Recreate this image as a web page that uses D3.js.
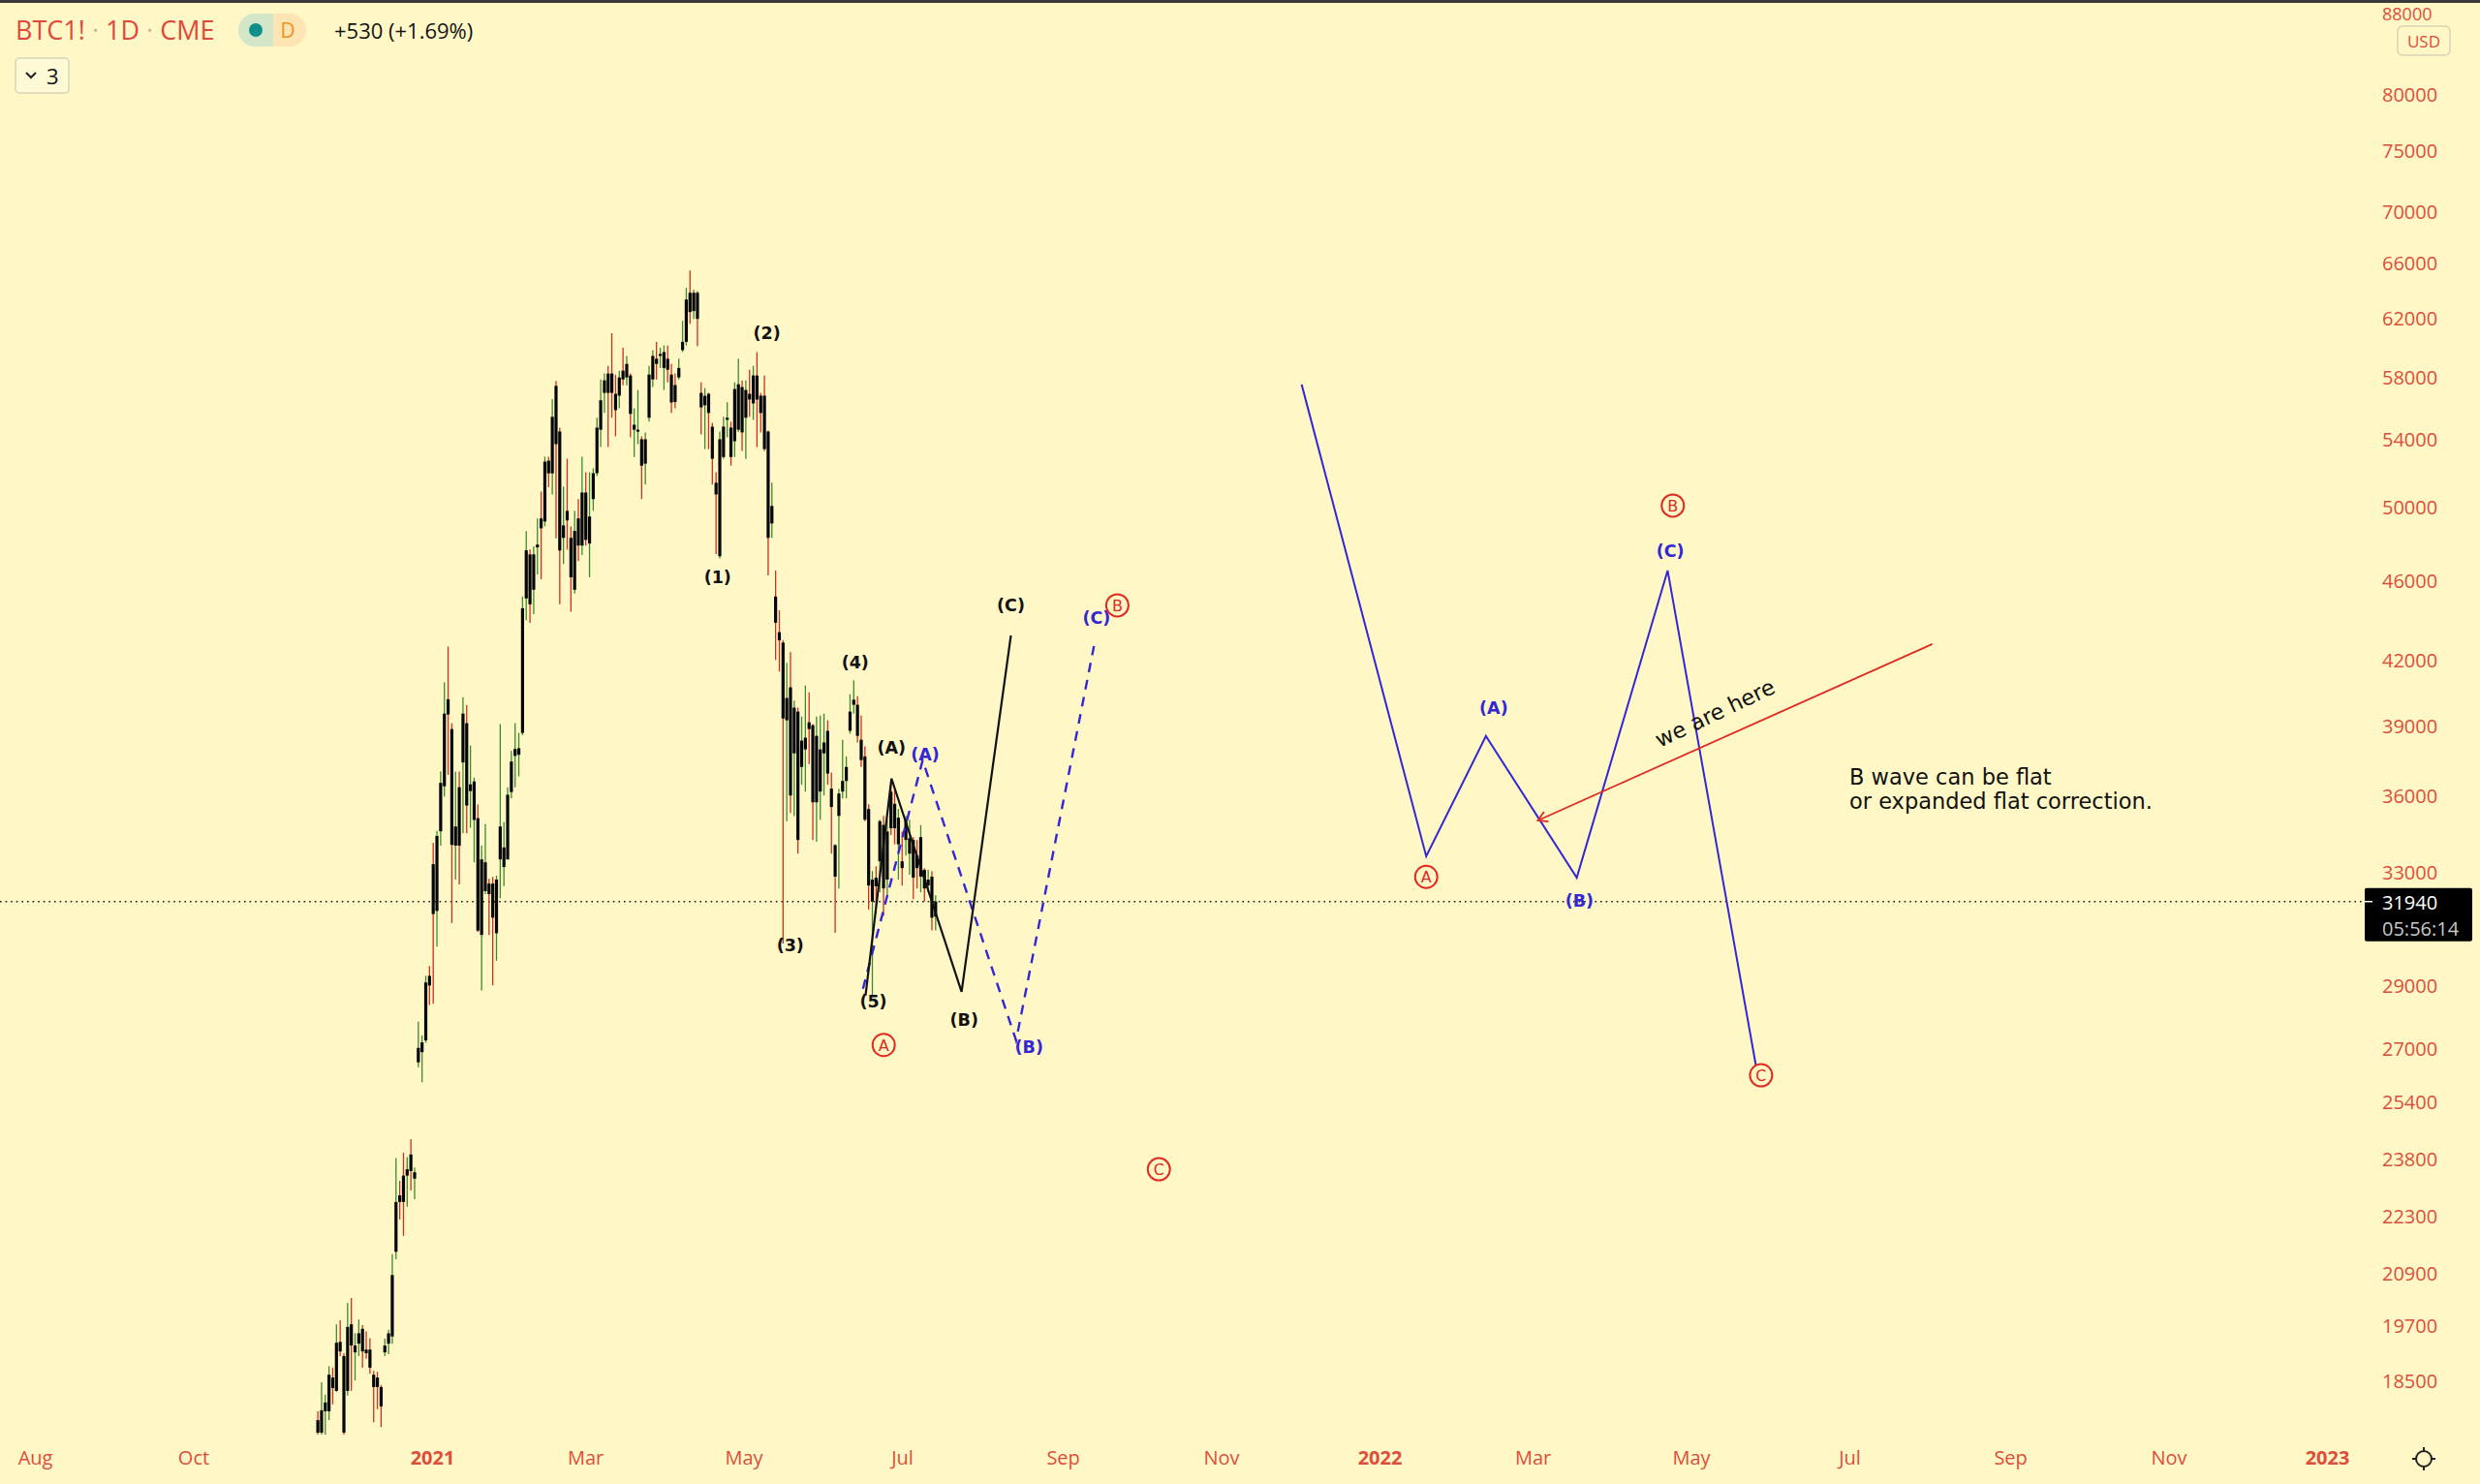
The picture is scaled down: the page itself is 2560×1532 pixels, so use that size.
<!DOCTYPE html>
<html><head><meta charset="utf-8">
<script src="https://cdn.jsdelivr.net/npm/d3@7"></script>
<style>
html,body{margin:0;padding:0;background:#fff8c6;}
svg{display:block;}
</style></head><body>
<svg id="chart" width="2560" height="1532"></svg>
<script>
// ---------- DATA ----------
const candleStart = "2020-11-18";
const candleEnd = "2021-07-14";
const candleOpen = [17700,17450,17880,17880,18580,18300,19350,19040,18300,19740,19120,19310,19640,19180,19180,18640,18580,18380,19120,19310,19470,21440,22860,23380,23380,23950,23300,
26600,26910,27270,29350,33330,31600,34600,36420,40210,38870,34040,36380,37420,39130,36220,35050,35120,30750,32320,32600,32600,30810,33510,33220,33510,36180,37700,37750,
38700,45100,47420,45550,47800,49400,49230,52760,52000,57450,54540,48320,49830,48320,45550,49400,47900,50880,48010,50500,52010,54650,56990,58260,58260,56930,56810,58450,58000,58130,54650,54530,54060,52580,55400,57870,59250,59440,58630,59250,58190,57500,58000,59830,60400,63870,62550,63870,
56990,56190,56930,54840,51450,47320,52980,55270,54780,53940,54650,57370,55400,56930,56310,58130,56810,56810,54540,49120,45200,43400,
42890,39260,40760,37810,39650,37230,37980,39170,39040,35760,36200,37810,38790,36320,34060,35210,36200,36640,38790,39960,39960,38400,37680,35490,31940,32820,33440,34850,32750,36200,35700,34090,33440,34260,33730,34260,33660,32860,33110,32530,32860,31400];
const candleHigh = [17880,18480,18220,18820,18790,19740,19830,19100,20230,20340,19540,19850,19720,19580,19430,18720,18700,18420,19420,19620,21380,23850,23240,24000,23880,24370,23600,
27860,27420,29350,29680,34150,34620,37050,40990,42700,39130,37030,37030,40300,39950,38150,36780,35670,34040,34880,32780,32850,32900,39090,34960,36380,37920,39130,38700,
45200,48700,47680,47860,49400,50940,53000,53000,56590,57770,54780,51230,52870,48950,49830,50500,53000,52070,52070,52300,55400,57870,58260,58770,61000,58190,58450,60000,59440,58260,56000,57180,54240,54480,58770,59830,60400,60000,60150,60150,58900,58260,59250,61860,64230,65500,64100,64000,
57680,57300,57000,55080,52070,54540,55460,56380,55150,57680,59250,57810,57810,58510,58770,59700,56990,58130,54600,51450,46560,44500,
43000,41910,42420,40150,39830,39430,40850,40530,39090,39430,39470,39560,39260,36990,34100,36320,38400,37680,40440,41090,40350,39470,38110,35680,33070,33250,35060,35210,35060,36640,36280,35490,34590,35210,35060,34370,34260,34850,33180,33110,33070,32170];
const candleLow = [17300,17300,17400,17700,18020,18280,19040,17300,18200,18300,18520,19040,18790,18980,18660,17660,17920,17560,19040,19080,19310,21260,22240,21830,22570,22990,22760,
26450,26000,27200,28390,28430,30340,34040,36000,36900,31170,32750,32570,34520,34520,34740,33400,30850,28870,32210,30750,29030,29860,32060,32510,33510,35920,36380,36830,
38600,44000,43870,44300,46350,46100,48960,51180,50770,48300,44800,46900,47680,44430,45350,47060,47390,47900,46200,49830,51840,53580,55700,53580,55400,54240,56000,57490,57490,54180,52980,53760,50500,51340,55150,57370,57870,58630,57180,57680,55700,56000,57870,59700,60150,61660,62000,60100,
54360,53460,53460,51340,47440,47200,52870,54180,52460,52980,54500,53340,52870,55460,55270,53580,54480,53340,46300,48320,42050,41500,
30450,35000,35330,35200,33730,36480,36200,37350,34260,34190,35060,36040,36480,33730,30820,32420,35920,35920,38660,39560,38280,37230,35000,31650,28710,31500,32280,31420,32170,34450,34090,32750,32530,33660,32930,32030,32420,32280,31940,32280,30910,30910];
const candleClose = [17450,17900,18060,18640,18360,19330,19140,17450,19680,19270,19270,19540,19140,19100,18790,18380,18380,17980,19270,19540,20880,22690,22690,22690,23550,23500,23470,
27040,27210,29130,29030,31490,34420,36560,39560,39520,34070,34790,34040,39560,35630,36500,36620,30900,33510,33400,32210,31360,32750,34790,33970,36070,37460,38000,38030,
44600,47640,44800,47420,47950,48850,52700,52000,55460,53760,47630,49010,49290,46200,48700,47900,50880,48210,49510,52010,54780,56510,57810,56990,56990,55880,58000,57870,58900,55640,54960,54650,52460,54060,58190,59440,58900,59570,59700,58510,56370,56400,58630,60400,63380,62480,63870,62000,
56060,56800,55700,52870,50770,54060,54840,55400,52980,57240,57550,54480,57180,56560,58130,56560,55700,53460,48320,50110,43870,43000,
39340,40270,36040,39830,34260,38360,38490,38870,35760,38570,37980,38280,36950,35570,32860,36120,36640,37230,39650,40190,38570,37520,35060,32530,32750,32500,35000,32420,34590,34720,34720,35140,33180,35060,34330,32820,33180,34370,32420,32750,31360,31940];

const lastPrice = 31940;
const lastTimer = "05:56:14";

const xTickDates = ["2020-08-01","2020-10-01","2021-01-01","2021-03-01","2021-05-01","2021-07-01","2021-09-01","2021-11-01","2022-01-01","2022-03-01","2022-05-01","2022-07-01","2022-09-01","2022-11-01","2023-01-01"];
const xTickLabels = ["Aug","Oct","2021","Mar","May","Jul","Sep","Nov","2022","Mar","May","Jul","Sep","Nov","2023"];
const yTickValues = [88000,80000,75000,70000,66000,62000,58000,54000,50000,46000,42000,39000,36000,33000,29000,27000,25400,23800,22300,20900,19700,18500];

// wave paths [date, price]
const blackWave = [["2021-06-17",28700],["2021-06-27",36740],["2021-07-24",28820],["2021-08-12",43240]];
const blueDashWave = [["2021-06-16",28920],["2021-07-09",37510],["2021-08-14",27270],["2021-09-13",42720]];
const blueBigWave = [["2021-12-02",57540],["2022-01-19",33630],["2022-02-11",38560],["2022-03-18",32820],["2022-04-22",46560],["2022-05-26",26510]];
const arrowLine = [["2022-08-02",42820],["2022-03-03",35030]];

// labels [date, price, text]
const blackLabels = [["2021-04-21",46200,"(1)"],["2021-05-10",61000,"(2)"],["2021-05-19",30380,"(3)"],["2021-06-13",41930,"(4)"],["2021-06-20",28510,"(5)"],["2021-06-27",38050,"(A)"],["2021-07-25",27920,"(B)"],["2021-08-12",44750,"(C)"]];
const blueLabels = [["2021-07-10",37760,"(A)"],["2021-08-19",27060,"(B)"],["2021-09-14",44110,"(C)"],["2022-02-14",39820,"(A)"],["2022-03-19",31970,"(B)"],["2022-04-23",47590,"(C)"]];
const redCircled = [["2021-06-24",27130,"A"],["2021-09-22",44750,"B"],["2021-10-08",23550,"C"],["2022-01-19",32850,"A"],["2022-04-24",50130,"B"],["2022-05-28",26210,"C"]];
const weAreHere = ["2022-04-19",38050,"we are here"];
const noteText = ["2022-07-01",36490,["B wave can be flat","or expanded flat correction."]];

// ---------- CHART ----------
const W = 2560, H = 1532, plotRight = 2440, plotBottom = 1481;
const BG = "#fff8c6", AXIS_RED = "#dc4e3c", BLUE = "#3326d6", RED = "#e02a24";
const parse = d3.timeParse("%Y-%m-%d");
const svg = d3.select("#chart");

const x = d3.scaleTime().domain([parse("2021-01-01"), parse("2022-01-01")]).range([446, 1424]);
const y = d3.scaleLog().domain([18500, 80000]).range([1426, 98]);
const n = candleOpen.length;
const xi = d3.scaleLinear().domain([0, n - 1]).range([x(parse(candleStart)), x(parse(candleEnd))]);

svg.append("rect").attr("width", W).attr("height", H).attr("fill", BG);

svg.append("defs").append("clipPath").attr("id", "plotClip")
  .append("rect").attr("x", 0).attr("y", 3).attr("width", plotRight).attr("height", plotBottom - 3);

const plot = svg.append("g").attr("clip-path", "url(#plotClip)");

// last price dotted line
plot.append("line").attr("x1", 0).attr("x2", plotRight)
  .attr("y1", y(lastPrice)).attr("y2", y(lastPrice))
  .attr("stroke", "#1a1a1a").attr("stroke-width", 1.6).attr("stroke-dasharray", "1.6,4");

// candles
const idx = d3.range(n);
const cg = plot.append("g");
cg.selectAll("line.wick").data(idx).join("line").attr("class", "wick")
  .attr("x1", i => xi(i)).attr("x2", i => xi(i))
  .attr("y1", i => y(candleHigh[i])).attr("y2", i => y(candleLow[i]))
  .attr("stroke", i => candleClose[i] >= candleOpen[i] ? "#3c8a2c" : "#c8321e")
  .attr("stroke-width", 1.3);
cg.selectAll("rect.body").data(idx).join("rect").attr("class", "body")
  .attr("x", i => xi(i) - 1.6).attr("width", 3.2)
  .attr("y", i => y(Math.max(candleOpen[i], candleClose[i])))
  .attr("height", i => Math.max(1.2, Math.abs(y(candleOpen[i]) - y(candleClose[i]))))
  .attr("fill", "#050505");

// wave lines
const line = d3.line().x(d => x(parse(d[0]))).y(d => y(d[1]));
plot.append("path").attr("d", line(blueDashWave)).attr("fill", "none")
  .attr("stroke", BLUE).attr("stroke-width", 2.4).attr("stroke-dasharray", "10,8");
plot.append("path").attr("d", line(blackWave)).attr("fill", "none")
  .attr("stroke", "#111").attr("stroke-width", 2.2).attr("stroke-linejoin", "miter");
plot.append("path").attr("d", line(blueBigWave)).attr("fill", "none")
  .attr("stroke", BLUE).attr("stroke-width", 2);

// red arrow
const a0 = [x(parse(arrowLine[0][0])), y(arrowLine[0][1])];
const a1 = [x(parse(arrowLine[1][0])), y(arrowLine[1][1])];
plot.append("path").attr("d", line(arrowLine)).attr("fill", "none").attr("stroke", RED).attr("stroke-width", 1.8);
const ang = Math.atan2(a0[1] - a1[1], a0[0] - a1[0]);
const hl = 11, ha = Math.PI / 6;
plot.append("path")
  .attr("d", `M${a1[0] + hl * Math.cos(ang - ha)},${a1[1] + hl * Math.sin(ang - ha)} L${a1[0]},${a1[1]} L${a1[0] + hl * Math.cos(ang + ha)},${a1[1] + hl * Math.sin(ang + ha)}`)
  .attr("fill", "none").attr("stroke", RED).attr("stroke-width", 1.8);

// "we are here"
const wx = x(parse(weAreHere[0])), wy = y(weAreHere[1]);
plot.append("text").attr("x", wx).attr("y", wy)
  .attr("transform", `rotate(-25.5,${wx},${wy})`)
  .attr("font-family", "DejaVu Sans").attr("font-size", 22.5).attr("fill", "#111")
  .text(weAreHere[2]);

// note text
const nt = plot.append("text").attr("x", x(parse(noteText[0]))).attr("y", y(noteText[1]))
  .attr("font-family", "DejaVu Sans").attr("font-size", 22.5).attr("fill", "#111");
noteText[2].forEach((t, k) => nt.append("tspan").attr("x", x(parse(noteText[0]))).attr("dy", k ? 25 : 0).text(t));

// labels
plot.selectAll("text.bl").data(blackLabels).join("text").attr("class", "bl")
  .attr("x", d => x(parse(d[0]))).attr("y", d => y(d[1]))
  .attr("text-anchor", "middle").attr("dominant-baseline", "central")
  .attr("font-family", "DejaVu Sans").attr("font-weight", "bold").attr("font-size", 17.5)
  .attr("fill", "#111").text(d => d[2]);
plot.selectAll("text.bu").data(blueLabels).join("text").attr("class", "bu")
  .attr("x", d => x(parse(d[0]))).attr("y", d => y(d[1]))
  .attr("text-anchor", "middle").attr("dominant-baseline", "central")
  .attr("font-family", "DejaVu Sans").attr("font-weight", "bold").attr("font-size", 17.5)
  .attr("fill", BLUE).text(d => d[2]);
const rc = plot.selectAll("g.rc").data(redCircled).join("g").attr("class", "rc")
  .attr("transform", d => `translate(${x(parse(d[0]))},${y(d[1])})`);
rc.append("circle").attr("r", 11.5).attr("fill", "none").attr("stroke", RED).attr("stroke-width", 2);
rc.append("text").attr("text-anchor", "middle").attr("dominant-baseline", "central").attr("y", 0.5)
  .attr("font-family", "DejaVu Sans").attr("font-size", 16).attr("fill", RED).text(d => d[2]);

// top border
svg.append("rect").attr("x", 0).attr("y", 0).attr("width", W).attr("height", 3).attr("fill", "#3a3a3a");

// x axis
const xAxis = d3.axisBottom(x).tickValues(xTickDates.map(parse))
  .tickFormat((d, i) => xTickLabels[i]).tickSize(0).tickPadding(0);
const gx = svg.append("g").attr("transform", `translate(0,${1498})`).call(xAxis);
gx.select(".domain").remove();
gx.selectAll("text").attr("font-family", "Open Sans").attr("font-size", 20)
  .attr("fill", AXIS_RED)
  .attr("font-weight", (d, i) => /^\d{4}$/.test(xTickLabels[i]) ? "bold" : "normal");

// y axis
const yAxis = d3.axisRight(y).tickValues(yTickValues).tickFormat(d3.format("d")).tickSize(0).tickPadding(0);
const gy = svg.append("g").attr("transform", `translate(2459,0)`).call(yAxis);
gy.select(".domain").remove();
gy.selectAll("text").attr("font-family", "Open Sans").attr("fill", AXIS_RED)
  .attr("font-size", d => y(d) < 20 ? 18 : 20)
  .attr("dy", d => y(d) < 20 ? `${20 - y(d)}px` : "0.32em");

// USD box
svg.append("rect").attr("x", 2475).attr("y", 27).attr("width", 54).attr("height", 30).attr("rx", 5)
  .attr("fill", BG).attr("stroke", "#d9d4b4").attr("stroke-width", 1.5);
svg.append("text").attr("x", 2502).attr("y", 42).attr("text-anchor", "middle").attr("dominant-baseline", "central")
  .attr("font-family", "Open Sans").attr("font-size", 17).attr("fill", AXIS_RED).text("USD");

// last price box
const ly = y(lastPrice);
svg.append("rect").attr("x", 2441).attr("y", ly - 14).attr("width", 111).attr("height", 55).attr("rx", 2).attr("fill", "#000");
svg.append("line").attr("x1", 2441).attr("x2", 2449).attr("y1", ly).attr("y2", ly).attr("stroke", "#fff").attr("stroke-width", 1.5);
svg.append("text").attr("x", 2459).attr("y", ly + 1).attr("dominant-baseline", "central")
  .attr("font-family", "Open Sans").attr("font-size", 20).attr("fill", "#fff").text(d3.format("d")(lastPrice));
svg.append("text").attr("x", 2459).attr("y", ly + 28).attr("dominant-baseline", "central")
  .attr("font-family", "Open Sans").attr("font-size", 20).attr("fill", "#c8c8c8").text(lastTimer);

// header
const ht = svg.append("text").attr("x", 16).attr("y", 41).attr("font-family", "Open Sans").attr("font-size", 27).attr("fill", "#e0483a");
ht.append("tspan").text("BTC1!");
ht.append("tspan").attr("fill", "#bbb7a0").text(" · ");
ht.append("tspan").text("1D");
ht.append("tspan").attr("fill", "#bbb7a0").text(" · ");
ht.append("tspan").text("CME");
svg.append("rect").attr("x", 246).attr("y", 14).attr("width", 70).attr("height", 34).attr("rx", 17).attr("fill", "#fce5b3");
svg.append("path").attr("d", "M282,14 H263 A17,17 0 0 0 263,48 H282 Z").attr("fill", "#d3e7c8");
svg.append("circle").attr("cx", 264).attr("cy", 31).attr("r", 7).attr("fill", "#0f8f8c");
svg.append("text").attr("x", 297).attr("y", 31).attr("text-anchor", "middle").attr("dominant-baseline", "central")
  .attr("font-family", "Open Sans").attr("font-size", 21).attr("fill", "#f0921e").text("D");
svg.append("text").attr("x", 345).attr("y", 40).attr("font-family", "Open Sans").attr("font-size", 22).attr("fill", "#131313").text("+530 (+1.69%)");
svg.append("rect").attr("x", 16).attr("y", 60).attr("width", 55).attr("height", 36).attr("rx", 4)
  .attr("fill", "#fffad6").attr("stroke", "#d8d3b8").attr("stroke-width", 1.5);
svg.append("path").attr("d", "M27,75 L32,80 L37,75").attr("fill", "none").attr("stroke", "#222").attr("stroke-width", 2);
svg.append("text").attr("x", 48).attr("y", 78).attr("dominant-baseline", "central")
  .attr("font-family", "Open Sans").attr("font-size", 22).attr("fill", "#131313").text("3");

// gear icon
const gear = svg.append("g").attr("transform", "translate(2502,1506)");
gear.append("circle").attr("r", 8).attr("fill", "none").attr("stroke", "#222").attr("stroke-width", 2);
[0, 90, 180, 270].forEach(a => gear.append("line").attr("x1", 0).attr("y1", -8).attr("x2", 0).attr("y2", -12)
  .attr("transform", `rotate(${a})`).attr("stroke", "#222").attr("stroke-width", 2));
</script>
</body></html>
